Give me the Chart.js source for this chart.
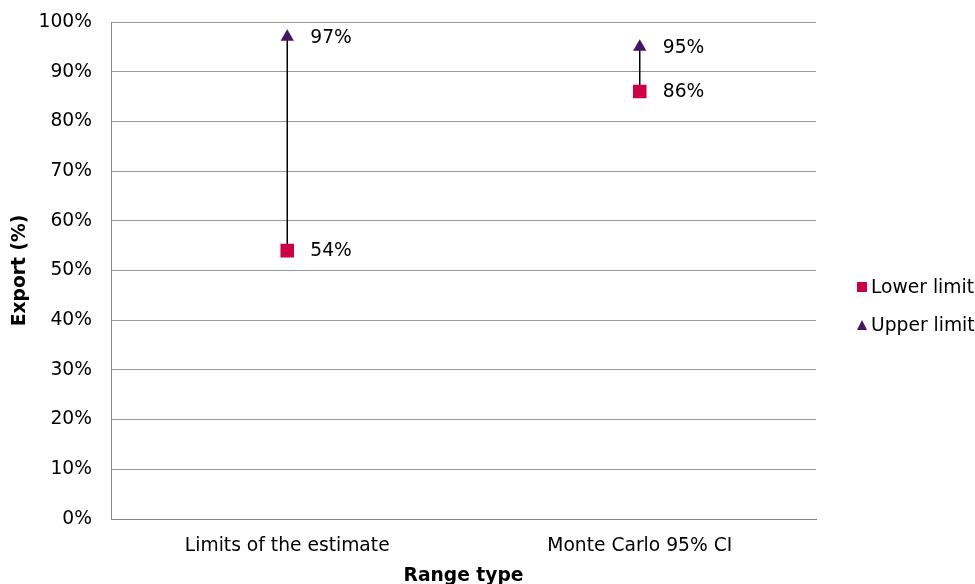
<!DOCTYPE html>
<html>
<head>
<meta charset="utf-8">
<script src="https://cdn.jsdelivr.net/npm/chart.js@4"></script>
<style>
  html, body { margin: 0; padding: 0; background: #fff; }
  #wrap { width: 975px; height: 584px; }
</style>
</head>
<body>
<div id="wrap"><canvas id="rangeChart" width="975" height="584"></canvas></div>
<script>
// data
const categories = ['Limits of the estimate', 'Monte Carlo 95% CI'];
const lowerLimit = [54, 86];
const upperLimit = [97, 95];
const yTicks = [0, 10, 20, 30, 40, 50, 60, 70, 80, 90, 100];

const lowColor = '#CC0044';
const highColor = '#4A1560';
const fontFamily = '"DejaVu Sans", Verdana, sans-serif';
const fontSize = 18.7;

// vertical high-low lines + value labels + legend
const rangeExtras = {
  id: 'rangeExtras',
  beforeDatasetsDraw(chart) {
    const { ctx, scales: { x, y } } = chart;
    ctx.save();
    ctx.strokeStyle = '#000';
    ctx.lineWidth = 1.5;
    categories.forEach((c, i) => {
      const px = x.getPixelForValue(i);
      ctx.beginPath();
      ctx.moveTo(px, y.getPixelForValue(lowerLimit[i]));
      ctx.lineTo(px, y.getPixelForValue(upperLimit[i]));
      ctx.stroke();
    });
    ctx.restore();
  },
  afterDatasetsDraw(chart) {
    const { ctx, scales: { x, y } } = chart;
    ctx.save();
    ctx.font = fontSize + 'px ' + fontFamily;
    ctx.fillStyle = '#000';
    ctx.textBaseline = 'middle';
    ctx.textAlign = 'left';
    categories.forEach((c, i) => {
      const px = x.getPixelForValue(i);
      ctx.fillText(lowerLimit[i] + '%', px + 23, y.getPixelForValue(lowerLimit[i]) + 1);
      ctx.fillText(upperLimit[i] + '%', px + 23, y.getPixelForValue(upperLimit[i]) + 1);
    });

    // legend
    const lx = 857;
    ctx.fillStyle = lowColor;
    ctx.fillRect(lx, 282, 10, 10);
    ctx.fillStyle = highColor;
    ctx.beginPath();
    ctx.moveTo(lx + 5, 320);
    ctx.lineTo(lx + 10, 330);
    ctx.lineTo(lx, 330);
    ctx.closePath();
    ctx.fill();
    ctx.fillStyle = '#000';
    ctx.fillText('Lower limit', lx + 14, 288);
    ctx.fillText('Upper limit', lx + 14, 326);
    ctx.restore();
  }
};

new Chart(document.getElementById('rangeChart'), {
  type: 'line',
  data: {
    labels: categories,
    datasets: [{
      label: 'Lower limit',
      data: lowerLimit,
      showLine: false,
      pointStyle: 'rect',
      pointRadius: 9.6,
      pointHoverRadius: 9.6,
      backgroundColor: lowColor,
      borderColor: lowColor,
      borderWidth: 0
    }, {
      label: 'Upper limit',
      data: upperLimit,
      showLine: false,
      pointStyle: 'triangle',
      pointRadius: 7.7,
      pointHoverRadius: 7.7,
      backgroundColor: highColor,
      borderColor: highColor,
      borderWidth: 0
    }]
  },
  options: {
    responsive: false,
    animation: false,
    layout: { padding: { top: 22, right: 159, left: 0, bottom: 0 } },
    plugins: {
      legend: { display: false },
      tooltip: { enabled: false }
    },
    scales: {
      x: {
        offset: true,
        grid: { display: false, drawTicks: false, offset: true },
        border: { color: '#888', width: 1 },
        ticks: { color: '#000', font: { family: fontFamily, size: fontSize }, padding: 16 },
        title: { display: true, text: 'Range type', color: '#000', font: { family: fontFamily, size: fontSize, weight: 'bold' }, padding: { top: 0, bottom: -3 } },
        afterFit(axis) { axis.height = 65; }
      },
      y: {
        min: 0,
        max: 100,
        afterBuildTicks(axis) { axis.ticks = yTicks.map(v => ({ value: v })); },
        grid: { color: '#999', lineWidth: 1, drawTicks: true, tickLength: 19, tickColor: 'rgba(0,0,0,0)' },
        border: { color: '#888', width: 1 },
        ticks: { color: '#000', font: { family: fontFamily, size: fontSize }, padding: 0, callback: v => v + '%' },
        title: { display: true, text: 'Export (%)', color: '#000', font: { family: fontFamily, size: fontSize, weight: 'bold' }, padding: { top: 9, bottom: 0 } },
        afterFit(axis) { axis.width = 111; }
      }
    }
  },
  plugins: [rangeExtras]
});
</script>
</body>
</html>
